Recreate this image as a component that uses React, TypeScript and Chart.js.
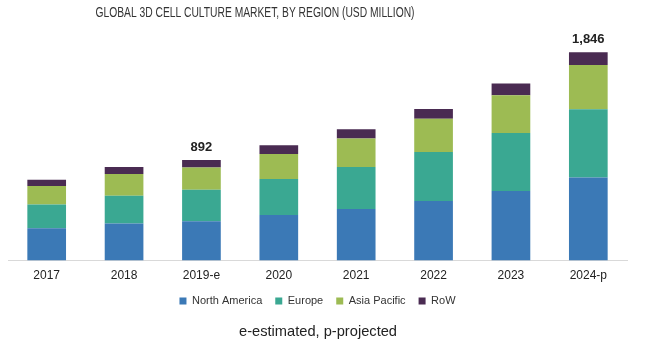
import React, { useEffect, useRef } from "react";
import { Chart, registerables } from "chart.js";

Chart.register(...registerables);

const categories = ["2017", "2018", "2019-e", "2020", "2021", "2022", "2023", "2024-p"];
const northAmerica = [287, 329, 349, 403, 456, 527, 616, 736];
const europe = [210, 246, 278, 320, 373, 435, 515, 605];
const asiaPacific = [163, 192, 198, 222, 252, 296, 334, 392];
const row = [56, 62, 67, 77, 83, 86, 104, 113];
const totalLabels: Record<number, string> = { 2: "892", 7: "1,846" };

const titleText = "GLOBAL 3D CELL CULTURE MARKET, BY REGION (USD MILLION)";
const footnoteText = "e-estimated, p-projected";

const textPlugin = {
  id: "customTexts",
  afterDraw(chart: any) {
    const ctx = chart.ctx;
    ctx.save();
    // Title
    ctx.fillStyle = "#333333";
    ctx.font = "14px 'Liberation Sans Narrow', 'Liberation Sans', Arial, sans-serif";
    ctx.textAlign = "center";
    ctx.textBaseline = "middle";
    const w = ctx.measureText(titleText).width;
    ctx.save();
    ctx.translate(255, 13);
    ctx.scale(319 / w, 1);
    ctx.fillText(titleText, 0, 0);
    ctx.restore();
    // Footnote
    ctx.fillStyle = "#222222";
    ctx.font = "15px 'Liberation Sans', Arial, sans-serif";
    const fw = ctx.measureText(footnoteText).width;
    ctx.save();
    ctx.translate(318, 332);
    ctx.scale(158 / fw, 1);
    ctx.fillText(footnoteText, 0, 0);
    ctx.restore();
    // Total labels
    const x = chart.scales.x;
    const y = chart.scales.y;
    ctx.font = "bold 13px 'Liberation Sans', Arial, sans-serif";
    ctx.fillStyle = "#222222";
    ctx.textBaseline = "middle";
    Object.keys(totalLabels).forEach((k) => {
      const i = Number(k);
      const total = northAmerica[i] + europe[i] + asiaPacific[i] + row[i];
      const px = x.getPixelForValue(i);
      const py = y.getPixelForValue(total);
      ctx.fillText(totalLabels[i], px, py - 13);
    });
    ctx.restore();
  },
};

export default function App() {
  const ref = useRef<HTMLCanvasElement>(null);
  useEffect(() => {
    document.body.style.margin = "0";
    const chart = new Chart(ref.current!, {
      type: "bar",
      data: {
        labels: categories,
        datasets: [
          { label: "North America", data: northAmerica, backgroundColor: "#3b79b6", borderWidth: 0 },
          { label: "Europe", data: europe, backgroundColor: "#3aa892", borderWidth: 0 },
          { label: "Asia Pacific", data: asiaPacific, backgroundColor: "#9dbb53", borderWidth: 0 },
          { label: "RoW", data: row, backgroundColor: "#4a2b52", borderWidth: 0 },
        ],
      },
      options: {
        animation: false,
        responsive: false,
        maintainAspectRatio: false,
        layout: { padding: { top: 35, left: 8, right: 23, bottom: 39.5 } },
        datasets: { bar: { categoryPercentage: 1, barPercentage: 0.5 } },
        scales: {
          x: {
            stacked: true,
            grid: { display: false, drawTicks: false },
            border: { display: true, color: "#d9d9d9", width: 1 },
            ticks: {
              padding: 8,
              color: "#222222",
              font: { size: 12, family: "'Liberation Sans', Arial, sans-serif" },
            },
            afterFit: (scale: any) => {
              scale.height = 22;
            },
          },
          y: {
            stacked: true,
            display: false,
            min: 0,
            max: 2000,
          },
        },
        plugins: {
          legend: {
            position: "bottom",
            labels: {
              boxWidth: 7,
              boxHeight: 7,
              padding: 13,
              color: "#333333",
              font: { size: 11, family: "'Liberation Sans', Arial, sans-serif" },
            },
          },
          title: { display: false },
          tooltip: { enabled: false },
        },
      },
      plugins: [textPlugin],
    });
    return () => chart.destroy();
  }, []);
  return <canvas ref={ref} width={650} height={356} style={{ display: "block" }} />;
}
